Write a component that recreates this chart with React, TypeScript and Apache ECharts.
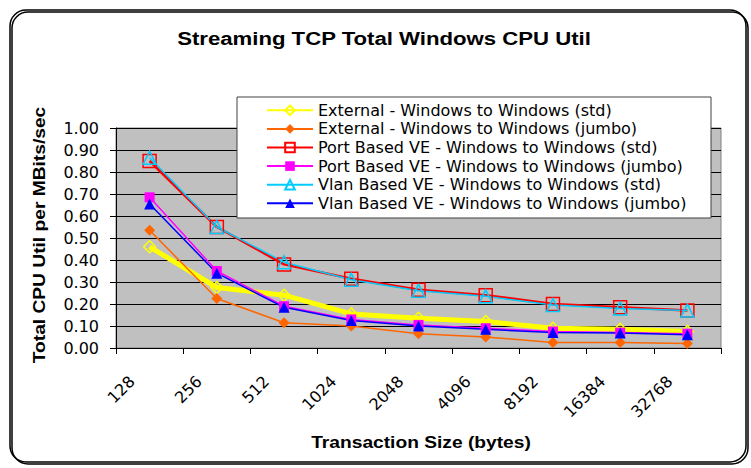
import React, { useEffect, useRef } from "react";
import * as echarts from "echarts";

const categories = ["128", "256", "512", "1024", "2048", "4096", "8192", "16384", "32768"];
const yTicks = [0, 0.1, 0.2, 0.3, 0.4, 0.5, 0.6, 0.7, 0.8, 0.9, 1.0];

const externalStd = [0.46, 0.275, 0.24, 0.155, 0.135, 0.12, 0.09, 0.085, 0.075];
const externalJumbo = [0.535, 0.225, 0.115, 0.1, 0.065, 0.05, 0.025, 0.025, 0.02];
const portStd = [0.85, 0.55, 0.38, 0.315, 0.265, 0.24, 0.2, 0.185, 0.17];
const portJumbo = [0.685, 0.35, 0.19, 0.13, 0.105, 0.09, 0.075, 0.07, 0.065];
const vlanStd = [0.865, 0.55, 0.39, 0.31, 0.26, 0.235, 0.195, 0.18, 0.17];
const vlanJumbo = [0.655, 0.34, 0.185, 0.125, 0.1, 0.085, 0.07, 0.068, 0.06];

const seriesNames = [
  "External - Windows to Windows (std)",
  "External - Windows to Windows (jumbo)",
  "Port Based VE - Windows to Windows (std)",
  "Port Based VE - Windows to Windows (jumbo)",
  "Vlan Based VE - Windows to Windows (std)",
  "Vlan Based VE - Windows to Windows (jumbo)",
];

const FONT = "'Liberation Sans', Arial, sans-serif";
const WIDE = "'DejaVu Sans', 'Liberation Sans', sans-serif";

export default function App() {
  const ref = useRef<HTMLDivElement>(null);
  useEffect(() => {
    if (!ref.current) return;
    const chart = echarts.init(ref.current, null, { renderer: "svg" });
    const mk = (
      name: string,
      data: number[],
      color: string,
      width: number,
      symbol: string,
      size: number,
      hollow: boolean
    ) => ({
      name,
      type: "line",
      data,
      symbol,
      symbolSize: size,
      lineStyle: { color, width },
      itemStyle: hollow
        ? { color: "rgba(0,0,0,0)", borderColor: color, borderWidth: 1.5 }
        : { color, borderColor: color, borderWidth: 0 },
      emphasis: { disabled: true },
    });
    chart.setOption({
      animation: false,
      backgroundColor: "#ffffff",
      textStyle: { fontFamily: FONT },
      grid: {
        left: 116,
        top: 128,
        right: 30,
        bottom: 120,
        show: true,
        backgroundColor: "#C0C0C0",
        borderColor: "#808080",
        borderWidth: 1,
      },
      xAxis: {
        type: "category",
        data: categories,
        boundaryGap: true,
        axisLine: { lineStyle: { color: "#000", width: 1 } },
        axisTick: { show: true, length: 6, interval: 0, alignWithLabel: false, lineStyle: { color: "#000" } },
        axisLabel: {
          rotate: 45,
          interval: 0,
          fontSize: 16,
          color: "#000",
          fontFamily: WIDE,
          margin: 13,
          padding: [0, 25, 0, 0],
        },
        splitLine: { show: false },
      },
      yAxis: {
        type: "value",
        min: yTicks[0],
        max: yTicks[yTicks.length - 1],
        interval: 0.1,
        axisLine: { show: true, lineStyle: { color: "#000", width: 1 } },
        axisTick: { show: true, length: 6, lineStyle: { color: "#000" } },
        axisLabel: {
          fontSize: 16,
          color: "#000",
          fontFamily: WIDE,
          margin: 17,
          formatter: (v: number) => v.toFixed(2),
        },
        splitLine: { show: true, lineStyle: { color: "#000", width: 1 } },
      },
      legend: {
        orient: "vertical",
        left: 266,
        top: 101,
        padding: 0,
        itemWidth: 46,
        itemHeight: 12,
        itemGap: 0,
        z: 10,
        textStyle: { fontSize: 16, color: "#000", fontFamily: WIDE, lineHeight: 18.6 },
        data: seriesNames,
      },
      graphic: [
        {
          type: "rect",
          z: 0,
          silent: true,
          shape: { x: 10, y: 10, width: 736, height: 452, r: 16 },
          style: {
            fill: "rgba(0,0,0,0)",
            stroke: "#000",
            lineWidth: 1.5,
            shadowColor: "#000",
            shadowOffsetX: 2,
            shadowOffsetY: 2,
            shadowBlur: 0,
          },
        },
        {
          type: "rect",
          z: 5,
          silent: true,
          shape: { x: 237, y: 97, width: 474, height: 121 },
          style: { fill: "#fff", stroke: "#404040", lineWidth: 1 },
        },
        {
          type: "text",
          x: 384,
          y: 38,
          scaleX: 1.167,
          silent: true,
          style: {
            text: "Streaming TCP Total Windows CPU Util",
            fontSize: 19,
            fontWeight: "bold",
            fontFamily: FONT,
            fill: "#000",
            align: "center",
            verticalAlign: "middle",
          },
        },
        {
          type: "text",
          x: 40,
          y: 235,
          rotation: Math.PI / 2,
          scaleX: 1.2,
          silent: true,
          style: {
            text: "Total CPU Util per MBits/sec",
            fontSize: 16,
            fontWeight: "bold",
            fontFamily: FONT,
            fill: "#000",
            align: "center",
            verticalAlign: "middle",
          },
        },
        {
          type: "text",
          x: 421,
          y: 443,
          scaleX: 1.2,
          silent: true,
          style: {
            text: "Transaction Size (bytes)",
            fontSize: 16,
            fontWeight: "bold",
            fontFamily: FONT,
            fill: "#000",
            align: "center",
            verticalAlign: "middle",
          },
        },
      ],
      series: [
        mk(seriesNames[0], externalStd, "#FFFF00", 5, "diamond", 12, true),
        mk(seriesNames[1], externalJumbo, "#FF6600", 1.5, "diamond", 11, false),
        mk(seriesNames[2], portStd, "#FF0000", 2.5, "rect", 13, true),
        mk(seriesNames[3], portJumbo, "#FF00FF", 1.5, "rect", 10, false),
        mk(seriesNames[4], vlanStd, "#00CCFF", 1.5, "triangle", 13, true),
        mk(seriesNames[5], vlanJumbo, "#0000FF", 1.5, "triangle", 11, false),
      ],
    });
    return () => chart.dispose();
  }, []);
  return (
    <div
      ref={ref}
      style={{ position: "absolute", left: 0, top: 0, width: 751, height: 468 }}
    />
  );
}
